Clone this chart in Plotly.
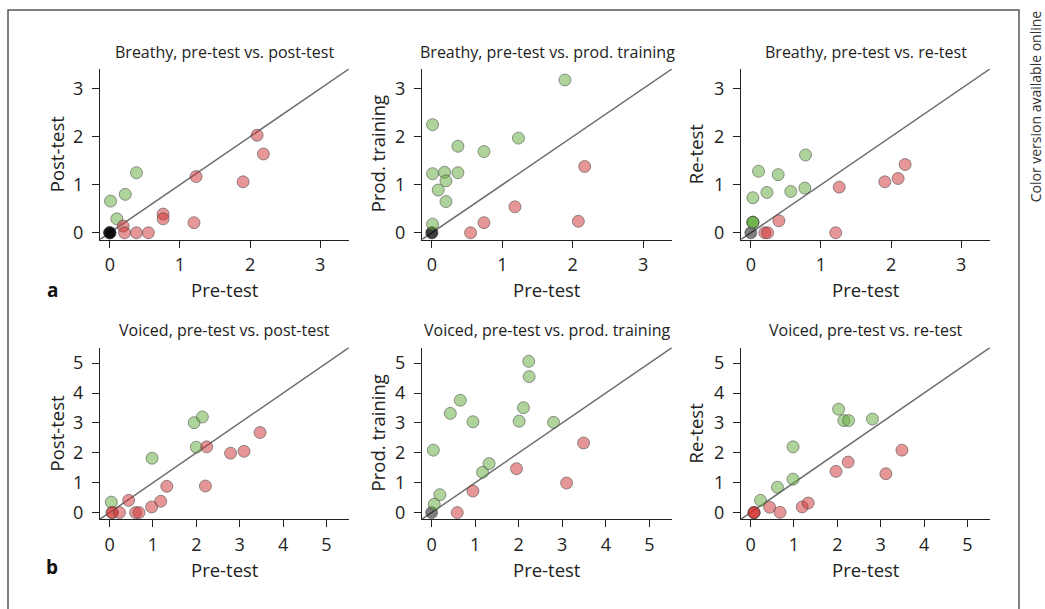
import plotly.graph_objects as go

# ---------------- data ----------------
# Breathy
breathy_post_pre = [0, 0, 0, 0, 0.01, 0.10, 0.22, 0.38, 0.19, 0.21, 0.38, 0.55, 0.76, 0.76, 1.20, 1.23, 1.90, 2.10, 2.19]
breathy_post_val = [0, 0, 0, 0, 0.66, 0.29, 0.80, 1.25, 0.14, 0.00, 0.00, 0.00, 0.39, 0.29, 0.21, 1.17, 1.06, 2.03, 1.64]

breathy_prod_pre = [0, 0, 0.01, 0.01, 0.01, 0.09, 0.18, 0.20, 0.20, 0.37, 0.37, 0.74, 1.23, 1.89, 0.55, 0.74, 1.18, 2.17, 2.08]
breathy_prod_val = [0, 0, 0.18, 2.25, 1.23, 0.89, 1.26, 1.08, 0.65, 1.80, 1.25, 1.69, 1.97, 3.18, 0.00, 0.21, 0.54, 1.38, 0.24]

breathy_re_pre = [0, 0.03, 0.03, 0.03, 0.03, 0.11, 0.23, 0.39, 0.57, 0.77, 0.78, 0.20, 0.24, 0.40, 1.21, 1.26, 1.91, 2.10, 2.20]
breathy_re_val = [0, 0.22, 0.22, 0.22, 0.73, 1.28, 0.84, 1.21, 0.86, 0.93, 1.62, 0.00, 0.00, 0.25, 0.00, 0.95, 1.06, 1.13, 1.42]

# Voiced
voiced_post_pre = [0.04, 0.44, 0.98, 1.95, 2.14, 2.00, 0.06, 0.06, 0.23, 0.60, 0.68, 0.97, 1.18, 1.32, 2.24, 2.21, 2.79, 3.10, 3.47]
voiced_post_val = [0.35, 0.41, 1.82, 3.01, 3.20, 2.19, 0.00, 0.00, 0.00, 0.00, 0.00, 0.19, 0.38, 0.88, 2.20, 0.89, 1.99, 2.05, 2.68]

voiced_prod_pre = [0, 0.06, 0.19, 0.04, 0.43, 0.66, 0.95, 1.17, 1.32, 2.01, 2.11, 2.23, 2.24, 2.80, 0.59, 0.95, 1.95, 3.10, 3.49]
voiced_prod_val = [0, 0.28, 0.60, 2.09, 3.32, 3.76, 3.04, 1.35, 1.64, 3.06, 3.51, 5.06, 4.55, 3.02, 0.00, 0.72, 1.47, 0.99, 2.33]

voiced_re_pre = [0.08, 0.08, 0.08, 0.23, 0.62, 0.98, 0.98, 2.03, 2.15, 2.26, 2.81, 0.44, 0.68, 1.19, 1.33, 1.97, 2.25, 3.12, 3.49]
voiced_re_val = [0.00, 0.00, 0.00, 0.41, 0.85, 1.12, 2.20, 3.46, 3.08, 3.08, 3.13, 0.18, 0.01, 0.19, 0.32, 1.38, 1.69, 1.30, 2.09]

panel_titles = [
    "Breathy, pre-test vs. post-test",
    "Breathy, pre-test vs. prod. training",
    "Breathy, pre-test vs. re-test",
    "Voiced, pre-test vs. post-test",
    "Voiced, pre-test vs. prod. training",
    "Voiced, pre-test vs. re-test",
]
y_titles = ["Post-test", "Prod. training", "Re-test", "Post-test", "Prod. training", "Re-test"]
x_title = "Pre-test"
row1_ticks = [0, 1, 2, 3]
row2_ticks = [0, 1, 2, 3, 4, 5]
row1_range = [-0.14, 3.41]
row2_range = [-0.22, 5.52]

panels = [
    (breathy_post_pre, breathy_post_val),
    (breathy_prod_pre, breathy_prod_val),
    (breathy_re_pre, breathy_re_val),
    (voiced_post_pre, voiced_post_val),
    (voiced_prod_pre, voiced_prod_val),
    (voiced_re_pre, voiced_re_val),
]

# ---------------- styling ----------------
W, H = 1045, 609
GREEN = "rgba(95,170,55,0.5)"
RED = "rgba(205,45,45,0.5)"
GRAY = "rgba(0,0,0,0.5)"
FONT = "Open Sans"
TXT = "#222222"

# panel pixel boxes (left, right, top, bottom)
col_px = [(100, 349), (422, 672), (741, 990)]
row_px = [(69.5, 241.5), (350.5, 523.5)]


def px_x(p):
    return p / W


def px_y(p):
    return 1 - p / H


fig = go.Figure()
annotations = []

for i, (xs, ys) in enumerate(panels):
    r, c = divmod(i, 3)
    n = i + 1
    xa = "xaxis" if n == 1 else f"xaxis{n}"
    ya = "yaxis" if n == 1 else f"yaxis{n}"
    xref = "x" if n == 1 else f"x{n}"
    yref = "y" if n == 1 else f"y{n}"
    rng = row1_range if r == 0 else row2_range
    ticks = row1_ticks if r == 0 else row2_ticks
    l, rr = col_px[c]
    t, b = row_px[r]

    # diagonal identity line
    fig.add_trace(go.Scatter(x=rng, y=rng, mode="lines", xaxis=xref, yaxis=yref,
                             line=dict(color="#6e6e6e", width=1.5), hoverinfo="skip",
                             showlegend=False))
    colors = [GREEN if yv > xv else (RED if yv < xv else GRAY) for xv, yv in zip(xs, ys)]
    fig.add_trace(go.Scatter(x=xs, y=ys, mode="markers", xaxis=xref, yaxis=yref,
                             marker=dict(size=12, color=colors,
                                         line=dict(color="rgba(70,70,70,0.55)", width=1)),
                             showlegend=False, cliponaxis=False))

    axis_common = dict(showgrid=False, zeroline=False, showline=True, linecolor="#222222",
                       linewidth=1, ticks="outside", ticklen=7, tickwidth=1, tickcolor="#222222",
                       tickvals=ticks, range=rng, fixedrange=True,
                       tickfont=dict(family=FONT, size=18, color=TXT))
    fig.layout[xa] = dict(domain=[px_x(l), px_x(rr)], anchor=yref, ticklabelstandoff=2, **axis_common)
    fig.layout[ya] = dict(domain=[px_y(b), px_y(t)], anchor=xref, ticklabelstandoff=5, **axis_common)

    cx = (l + rr) / 2
    title_y = 52 if r == 0 else 333
    annotations.append(dict(text=panel_titles[i], x=px_x(cx), y=px_y(title_y), xref="paper", yref="paper",
                            showarrow=False, xanchor="center", yanchor="middle",
                            font=dict(family=FONT, size=16, color=TXT)))
    xt_y = 292 if r == 0 else 574
    annotations.append(dict(text=x_title, x=px_x(cx), y=px_y(xt_y), xref="paper", yref="paper",
                            showarrow=False, xanchor="center", yanchor="middle",
                            font=dict(family=FONT, size=18.5, color=TXT)))
    yt_x = [56, 377, 695][c]
    annotations.append(dict(text=y_titles[i], x=px_x(yt_x), y=px_y((t + b) / 2), xref="paper", yref="paper",
                            showarrow=False, xanchor="center", yanchor="middle", textangle=-90,
                            font=dict(family=FONT, size=18.5, color=TXT)))

# panel letters
annotations.append(dict(text="<b>a</b>", x=px_x(52), y=px_y(292), xref="paper", yref="paper",
                        showarrow=False, xanchor="center", yanchor="middle",
                        font=dict(family=FONT, size=19, color="#111111")))
annotations.append(dict(text="<b>b</b>", x=px_x(52), y=px_y(572), xref="paper", yref="paper",
                        showarrow=False, xanchor="center", yanchor="middle",
                        font=dict(family=FONT, size=19, color="#111111")))
# side note
annotations.append(dict(text="Color version available online", x=px_x(1035), y=px_y(206),
                        xref="paper", yref="paper", showarrow=False, textangle=-90,
                        xanchor="center", yanchor="bottom",
                        font=dict(family=FONT, size=14, color="#333333")))

# frame
shapes = [dict(type="rect", xref="paper", yref="paper", x0=px_x(8), x1=px_x(1019),
               y0=-0.1, y1=px_y(10), line=dict(color="#555555", width=1.5), layer="below")]

fig.update_layout(width=W, height=H, margin=dict(l=0, r=0, t=0, b=0),
                  paper_bgcolor="white", plot_bgcolor="white",
                  annotations=annotations, shapes=shapes,
                  font=dict(family=FONT, color=TXT))

fig.write_html("out.html")
